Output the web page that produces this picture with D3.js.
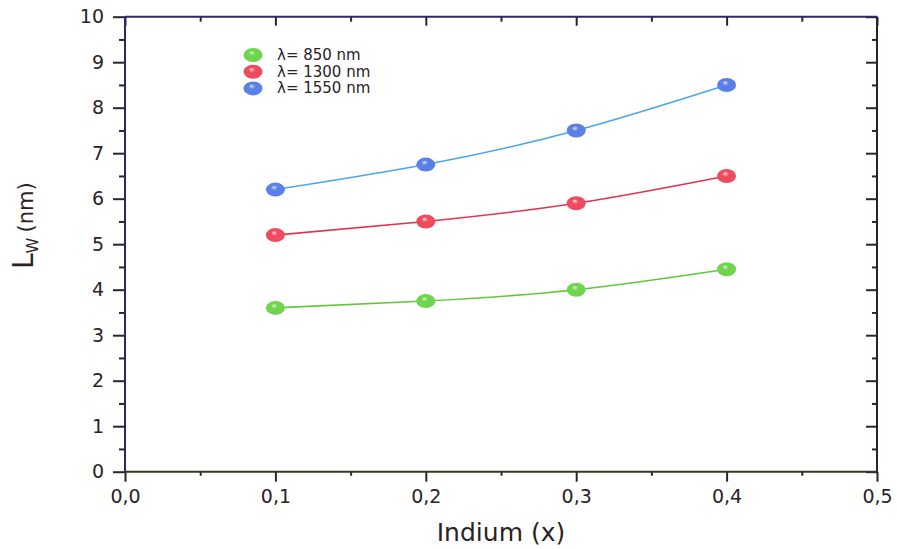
<!DOCTYPE html>
<html>
<head>
<meta charset="utf-8">
<script src="https://cdn.jsdelivr.net/npm/d3@7/dist/d3.min.js"></script>
<style>
  html, body { margin: 0; padding: 0; background: #fff; }
  svg { display: block; }
  text { font-family: "DejaVu Sans", "Liberation Sans", Arial, sans-serif; fill: #2a2226; }
</style>
</head>
<body>
<svg id="chart" width="897" height="549"></svg>
<script>
// Indium fraction on the x axis
const indium = [0.1, 0.2, 0.3, 0.4];

// Well width L_W (nm) for each wavelength
const lw850 = [3.6, 3.75, 4.0, 4.45];
const lw1300 = [5.2, 5.5, 5.9, 6.5];
const lw1550 = [6.2, 6.75, 7.5, 8.5];

const seriesNames = ["λ= 850 nm", "λ= 1300 nm", "λ= 1550 nm"];

const xTickValues = [0, 0.1, 0.2, 0.3, 0.4, 0.5];
const xTickLabels = ["0,0", "0,1", "0,2", "0,3", "0,4", "0,5"];
const yTickValues = [0, 1, 2, 3, 4, 5, 6, 7, 8, 9, 10];

const series = [
  { name: seriesNames[0], values: lw850, line: "#62c83a", base: "#6fd44e", dark: "#3fa22a", light: "#d8f7c8" },
  { name: seriesNames[1], values: lw1300, line: "#e2334f", base: "#ee4a60", dark: "#c42238", light: "#ffd6dc" },
  { name: seriesNames[2], values: lw1550, line: "#4aa6e6", base: "#5a7fe6", dark: "#3858c4", light: "#dbe4ff" }
];

const svg = d3.select("#chart");
const plotLeft = 125, plotRight = 877, plotTop = 16.7, plotBottom = 471.7;

const x = d3.scaleLinear().domain([0, 0.5]).range([plotLeft, plotRight]);
const y = d3.scaleLinear().domain([0, 10]).range([plotBottom, plotTop]);

// Glossy sphere fills for the markers
const defs = svg.append("defs");
series.forEach((s, i) => {
  const g = defs.append("radialGradient")
    .attr("id", "ball" + i)
    .attr("cx", "50%").attr("cy", "50%").attr("r", "60%")
    .attr("fx", "42%").attr("fy", "32%");
  g.append("stop").attr("offset", "0%").attr("stop-color", s.light);
  g.append("stop").attr("offset", "30%").attr("stop-color", s.base);
  g.append("stop").attr("offset", "85%").attr("stop-color", s.base);
  g.append("stop").attr("offset", "100%").attr("stop-color", s.dark);
});

// Axes: left/bottom ticks point out, right/top ticks point in
const minorY = d3.range(0.5, 10, 1);
const minorX = [0.05, 0.15, 0.25, 0.35, 0.45];
const axisColor = "#2a2430";

function styleAxis(g) {
  g.select(".domain").remove();
  g.selectAll("line").attr("stroke", axisColor).attr("stroke-width", 2);
}
function styleLabels(g) {
  g.selectAll("text").style("font-size", "19px").attr("fill", "#2a2226").attr("font-family", null);
}

// left
svg.append("g").attr("transform", `translate(${plotLeft},0)`)
  .call(d3.axisLeft(y).tickValues(yTickValues).tickSize(12).tickPadding(9).tickFormat(d3.format("d")))
  .call(styleAxis).call(styleLabels);
svg.append("g").attr("transform", `translate(${plotLeft},0)`)
  .call(d3.axisLeft(y).tickValues(minorY).tickSize(6).tickFormat(""))
  .call(styleAxis);

// right
svg.append("g").attr("transform", `translate(${plotRight},0)`)
  .call(d3.axisLeft(y).tickValues(yTickValues).tickSize(11).tickFormat(""))
  .call(styleAxis);
svg.append("g").attr("transform", `translate(${plotRight},0)`)
  .call(d3.axisLeft(y).tickValues(minorY).tickSize(5).tickFormat(""))
  .call(styleAxis);

// bottom
svg.append("g").attr("transform", `translate(0,${plotBottom})`)
  .call(d3.axisBottom(x).tickValues(xTickValues).tickSize(10).tickPadding(8)
    .tickFormat((d, i) => xTickLabels[i]))
  .call(styleAxis).call(styleLabels);
svg.append("g").attr("transform", `translate(0,${plotBottom})`)
  .call(d3.axisBottom(x).tickValues(minorX).tickSize(4).tickFormat(""))
  .call(styleAxis);

// top
svg.append("g").attr("transform", `translate(0,${plotTop})`)
  .call(d3.axisBottom(x).tickValues(xTickValues).tickSize(9).tickFormat(""))
  .call(styleAxis);
svg.append("g").attr("transform", `translate(0,${plotTop})`)
  .call(d3.axisBottom(x).tickValues(minorX).tickSize(5).tickFormat(""))
  .call(styleAxis);

// frame
svg.append("line").attr("x1", plotLeft).attr("x2", plotRight).attr("y1", plotTop).attr("y2", plotTop)
  .attr("stroke", "#2e2a6a").attr("stroke-width", 2);
svg.append("line").attr("x1", plotLeft).attr("x2", plotRight).attr("y1", plotBottom).attr("y2", plotBottom)
  .attr("stroke", "#3a3422").attr("stroke-width", 2);
svg.append("line").attr("x1", plotLeft).attr("x2", plotLeft).attr("y1", plotTop).attr("y2", plotBottom)
  .attr("stroke", "#262a66").attr("stroke-width", 2);
svg.append("line").attr("x1", plotRight).attr("x2", plotRight).attr("y1", plotTop).attr("y2", plotBottom)
  .attr("stroke", "#2a2226").attr("stroke-width", 2);

// Smooth curves through the points
const line = d3.line()
  .x((d, i) => x(indium[i]))
  .y(d => y(d))
  .curve(d3.curveNatural);

series.forEach((s, i) => {
  svg.append("path")
    .attr("d", line(s.values))
    .attr("fill", "none")
    .attr("stroke", s.line)
    .attr("stroke-width", 1.6);
});

series.forEach((s, i) => {
  svg.append("g").selectAll("ellipse")
    .data(s.values)
    .join("ellipse")
    .attr("cx", (d, j) => x(indium[j]))
    .attr("cy", d => y(d))
    .attr("rx", 9.5)
    .attr("ry", 7)
    .attr("fill", `url(#ball${i})`);
});

// Legend
const legend = svg.append("g");
series.forEach((s, i) => {
  const ly = 55 + i * 16.7;
  legend.append("ellipse")
    .attr("cx", 253).attr("cy", ly).attr("rx", 9.5).attr("ry", 7)
    .attr("fill", `url(#ball${i})`);
  legend.append("text")
    .attr("x", 277).attr("y", ly + 5)
    .style("font-size", "15px")
    .text(s.name);
});

// Axis titles
svg.append("text")
  .attr("x", x(0.25)).attr("y", 541)
  .attr("text-anchor", "middle")
  .style("font-size", "25px")
  .text("Indium (x)");

const yTitle = svg.append("text")
  .attr("transform", "translate(33,269) rotate(-90)");
yTitle.append("tspan").style("font-size", "28px").text("L");
yTitle.append("tspan").style("font-size", "16px").attr("dy", 5).text("W");
yTitle.append("tspan").style("font-size", "21px").attr("dy", -5).attr("dx", 5).text("(nm)");
</script>
</body>
</html>
